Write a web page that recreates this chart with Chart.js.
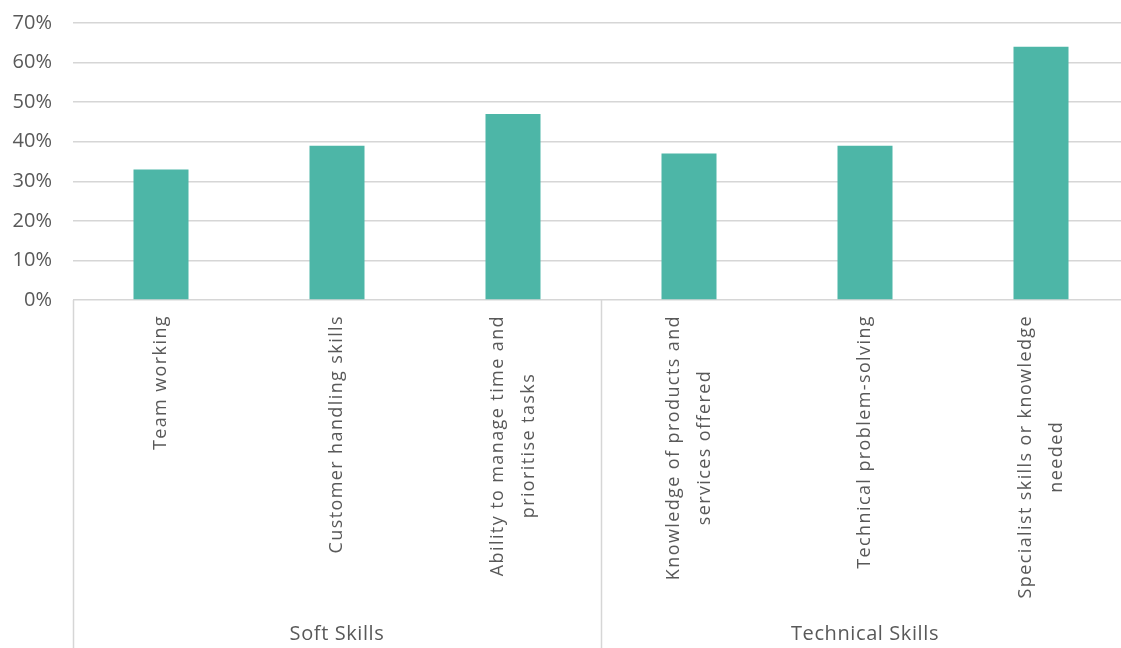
<!DOCTYPE html>
<html lang="en">
<head>
  <meta charset="UTF-8" />
  <title>Skills gaps</title>
  <style>
    html, body {
      margin: 0;
      padding: 0;
      background: #ffffff;
      overflow: hidden;
    }
    #wrap {
      width: 1129px;
      height: 648px;
    }
  </style>
</head>
<body>
  <div id="wrap"><canvas id="grafico"></canvas></div>

  <script src="https://cdn.jsdelivr.net/npm/chart.js"></script>
  <script>
    // data
    const categoryLines = [
      ['Team working'],
      ['Customer handling skills'],
      ['Ability to manage time and', 'prioritise tasks'],
      ['Knowledge of products and', 'services offered'],
      ['Technical problem-solving'],
      ['Specialist skills or knowledge', 'needed']
    ];
    const values = [33, 39, 47, 37, 39, 64];
    const groupNames = ['Soft Skills', 'Technical Skills'];
    const groupSizes = [3, 3];
    const yTicks = [0, 10, 20, 30, 40, 50, 60, 70];

    const textColor = '#595959';
    const lineColor = '#d6d6d6';

    // category labels, group labels and divider lines under the axis
    const groupAxis = {
      id: 'groupAxis',
      afterDraw(chart) {
        const ctx = chart.ctx;
        const x = chart.scales.x;
        const area = chart.chartArea;
        const bottom = chart.height;

        ctx.save();
        ctx.strokeStyle = lineColor;
        ctx.lineWidth = 1.5;

        // dividers at group edges
        let start = 0;
        groupSizes.forEach(n => {
          const px = Math.round(x.getPixelForValue(start - 0.5)) + 0.5;
          ctx.beginPath();
          ctx.moveTo(px, area.bottom);
          ctx.lineTo(px, bottom);
          ctx.stroke();
          start += n;
        });

        // rotated category labels
        ctx.fillStyle = textColor;
        ctx.font = '18px "Open Sans", sans-serif';
        ctx.letterSpacing = '1.4px';
        ctx.textBaseline = 'middle';
        ctx.textAlign = 'center';
        const lineH = 31;
        const top = area.bottom + 15;
        categoryLines.forEach((lines, i) => {
          const cx = x.getPixelForValue(i);
          const w = Math.max(...lines.map(l => ctx.measureText(l).width));
          const firstX = cx - (lines.length - 1) * lineH / 2;
          lines.forEach((l, j) => {
            ctx.save();
            ctx.translate(firstX + j * lineH, top + w / 2);
            ctx.rotate(-Math.PI / 2);
            ctx.fillText(l, 0, 0);
            ctx.restore();
          });
        });

        // group names
        ctx.letterSpacing = '0.6px';
        ctx.font = '20px "Open Sans", sans-serif';
        start = 0;
        groupNames.forEach((g, k) => {
          const a = x.getPixelForValue(start - 0.5);
          const b = x.getPixelForValue(start + groupSizes[k] - 0.5);
          ctx.fillText(g, (a + b) / 2, 634);
          start += groupSizes[k];
        });
        ctx.restore();
      }
    };

    new Chart(document.getElementById('grafico').getContext('2d'), {
      type: 'bar',
      data: {
        labels: categoryLines.map(l => l.join(' ')),
        datasets: [{
          data: values,
          backgroundColor: '#4db6a7',
          barPercentage: 0.3125,
          categoryPercentage: 1
        }]
      },
      options: {
        responsive: true,
        maintainAspectRatio: false,
        animation: false,
        layout: { padding: { top: 23, right: 0, bottom: 348, left: 0 } },
        plugins: {
          legend: { display: false },
          tooltip: { enabled: false }
        },
        scales: {
          x: {
            display: false
          },
          y: {
            min: 0,
            max: 70,
            afterFit: s => { s.width = 73; },
            afterBuildTicks: s => { s.ticks = yTicks.map(v => ({ value: v })); },
            border: { display: false },
            grid: {
              color: lineColor,
              lineWidth: 1.5,
              drawTicks: true,
              tickLength: 21,
              tickColor: 'rgba(0,0,0,0)'
            },
            ticks: {
              padding: 0,
              color: textColor,
              font: { family: '"Open Sans", sans-serif', size: 20 },
              callback: v => v + '%'
            }
          }
        }
      },
      plugins: [groupAxis]
    });
  </script>
</body>
</html>
